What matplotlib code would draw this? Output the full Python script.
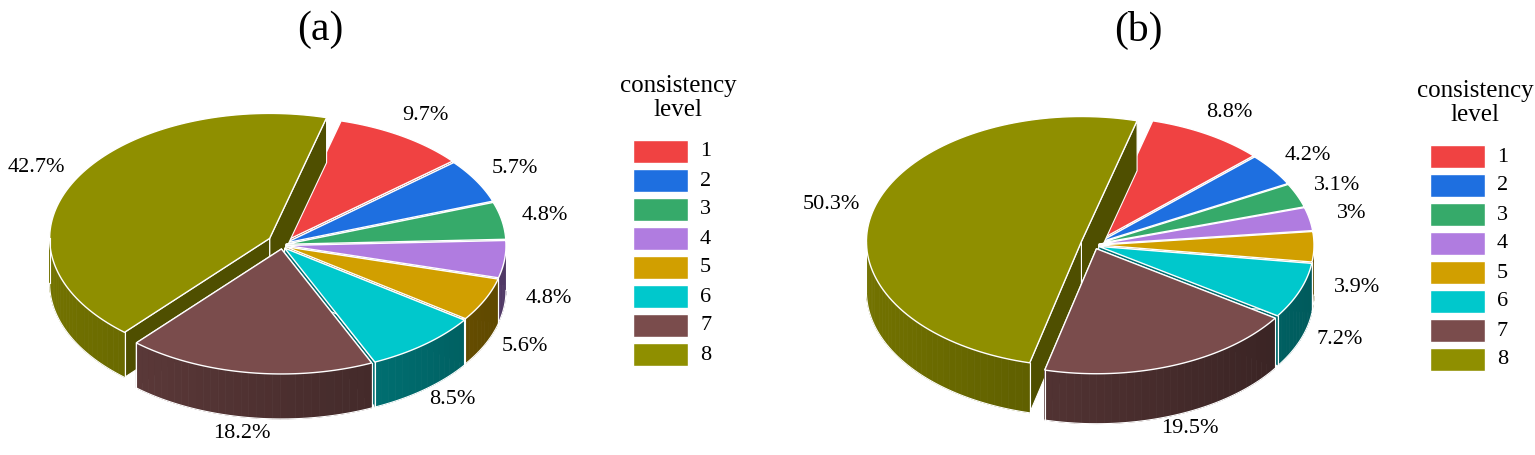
import numpy as np
import matplotlib
matplotlib.use('Agg')
import matplotlib.pyplot as plt
from matplotlib.patches import Polygon, Rectangle
from matplotlib.colors import to_rgb

plt.rcParams['font.family'] = ['Liberation Serif', 'DejaVu Serif']

levels = ['1', '2', '3', '4', '5', '6', '7', '8']
colors = ['#f04242', '#1e6fe0', '#36aa6a', '#b07ce0', '#d19f00', '#00c8cc', '#7a4c4c', '#8f8f00']
share_a = [9.7, 5.7, 4.8, 4.8, 5.6, 8.5, 18.2, 42.7]
share_b = [8.8, 4.2, 3.1, 3, 3.9, 7.2, 19.5, 50.3]
labels_a = ['9.7%', '5.7%', '4.8%', '4.8%', '5.6%', '8.5%', '18.2%', '42.7%']
labels_b = ['8.8%', '4.2%', '3.1%', '3%', '3.9%', '7.2%', '19.5%', '50.3%']

W, H = 1535, 455
fig = plt.figure(figsize=(W / 100, H / 100), dpi=100)
ax = fig.add_axes([0, 0, 1, 1])
ax.set_xlim(0, W); ax.set_ylim(H, 0)
ax.axis('off')


def shade(c, f):
    r, g, b = to_rgb(c)
    return (r * f, g * f, b * f)


def pie3d(cx, cy, a, b, depth, vals, labs, start=75, explode_big=14, explode=4):
    tot = sum(vals)
    slices = []
    t = start
    for i, v in enumerate(vals):
        span = 360 * v / tot
        t0, t1 = t - span, t        # clockwise
        t = t0
        mid = np.radians((t0 + t1) / 2)
        e = explode_big if i == len(vals) - 1 else explode
        ox, oy = e * np.cos(mid), -e * np.sin(mid)
        slices.append((i, t0, t1, mid, ox, oy))

    # painter's order: back (top of screen) first
    order = sorted(slices, key=lambda s: np.sin(s[3]), reverse=True)
    for i, t0, t1, mid, ox, oy in order:
        c = colors[i]
        x0, y0 = cx + ox, cy + oy
        def rim(tt, z=0):
            return (x0 + a * np.cos(np.radians(tt)), y0 - b * np.sin(np.radians(tt)) + z)
        # radial faces
        for tt in (t0, t1):
            px, py = rim(tt)
            ax.add_patch(Polygon([(x0, y0), (px, py), (px, py + depth), (x0, y0 + depth)],
                                 closed=True, fc=shade(c, 0.55), ec='white', lw=0.8))
        # outer wall, front half only, in strips for gradient
        lo, hi = max(t0, 180), min(t1, 360)
        lo2, hi2 = max(t0, -180), min(t1, 0)
        for L, Hh in ((lo, hi), (lo2, hi2)):
            if Hh <= L:
                continue
            edges = np.linspace(L, Hh, max(2, int((Hh - L) / 2) + 1))
            for s0, s1 in zip(edges[:-1], edges[1:]):
                tm = np.radians((s0 + s1) / 2)
                f = 0.45 + 0.35 * (0.5 - 0.5 * np.cos(tm))
                p0, p1 = rim(s0), rim(s1)
                ax.add_patch(Polygon([p0, p1, (p1[0], p1[1] + depth), (p0[0], p0[1] + depth)],
                                     closed=True, fc=shade(c, f), ec=shade(c, f), lw=0.5))
            ts = np.linspace(L, Hh, 60)
            bx = [rim(tt)[0] for tt in ts]
            by = [rim(tt)[1] + depth for tt in ts]
            ax.plot(bx, by, color='white', lw=0.8)
            for tt in (L, Hh):
                px, py = rim(tt)
                ax.plot([px, px], [py, py + depth], color='white', lw=0.8)
        # top face
        ts = np.linspace(t0, t1, 100)
        pts = [(x0, y0)] + [rim(tt) for tt in ts]
        ax.add_patch(Polygon(pts, closed=True, fc=c, ec='white', lw=1.0))

    for i, t0, t1, mid, ox, oy in slices:
        r = 1.2
        lx = cx + ox + a * r * np.cos(mid)
        ly = cy + oy - b * r * np.sin(mid) + (depth * 0.8 if np.sin(mid) < 0 else 0)
        ax.text(lx, ly, labs[i], ha='center', va='center', fontsize=16)


def legend(x, y):
    ax.text(x + 45, y, 'consistency\nlevel', ha='center', va='center', fontsize=18, linespacing=1.1)
    for k, lv in enumerate(levels):
        yy = y + 42 + k * 29
        ax.add_patch(Rectangle((x, yy), 55, 23, fc=colors[k], ec='white'))
        ax.text(x + 67, yy + 12, lv, ha='left', va='center', fontsize=16)


pie3d(282, 245, 220, 125, 45, share_a, labels_a)
pie3d(1095, 245, 215, 125, 50, share_b, labels_b)
legend(633, 98)
legend(1430, 103)
ax.text(320, 30, '(a)', ha='center', va='center', fontsize=30)
ax.text(1138, 30, '(b)', ha='center', va='center', fontsize=30)

fig.savefig('out.png', dpi=100)
